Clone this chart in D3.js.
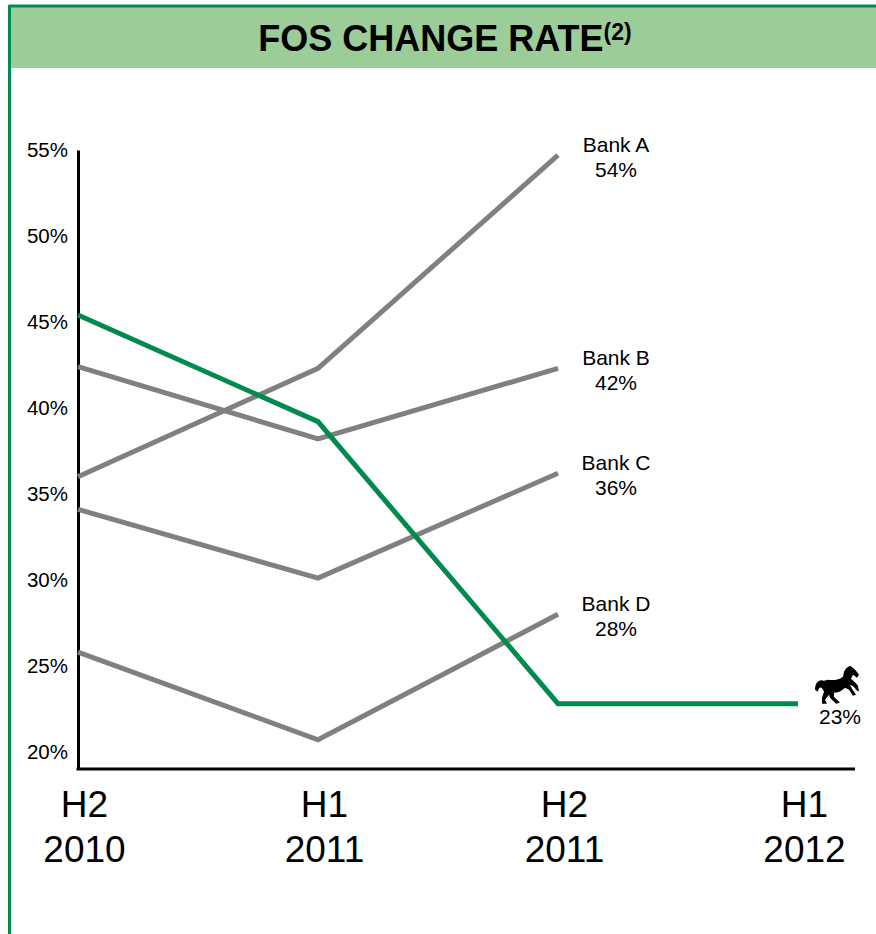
<!DOCTYPE html>
<html>
<head>
<meta charset="utf-8">
<script src="https://cdn.jsdelivr.net/npm/d3@7"></script>
<style>
  body { margin: 0; background: #fff; }
  svg text { font-family: "Liberation Sans", Arial, sans-serif; }
</style>
</head>
<body>
<div id="chart-area"></div>
<script>
// === Chart data ===
const periods = ["H2 2010", "H1 2011", "H2 2011", "H1 2012"];
const yTicks = [20, 25, 30, 35, 40, 45, 50, 55];

const bankNames = ["Bank A", "Bank B", "Bank C", "Bank D"];
const bankA = [36.0, 42.3, 54.7];
const bankB = [42.4, 38.2, 42.3];
const bankC = [34.1, 30.1, 36.2];
const bankD = [25.8, 20.7, 28.0];
const bankLabels = ["54%", "42%", "36%", "28%"];

const lloyds = [45.4, 39.2, 22.8, 22.8];
const lloydsLabel = "23%";

const COLOR_GREEN = "#008a4e";   // Lloyds line + frame
const COLOR_GREY = "#808080";    // peer banks
const COLOR_HEADER = "#9ccc98";  // title band

function drawChart() {
    const W = 876, H = 934;

    const svg = d3.select("#chart-area")
        .append("svg")
        .attr("width", W)
        .attr("height", H);

    // Frame + title band
    svg.append("rect")
        .attr("x", 10).attr("y", 7)
        .attr("width", W - 10).attr("height", 61)
        .attr("fill", COLOR_HEADER);
    svg.append("line")
        .attr("x1", 9).attr("x2", W)
        .attr("y1", 6).attr("y2", 6)
        .attr("stroke", COLOR_GREEN).attr("stroke-width", 3);
    svg.append("line")
        .attr("x1", 9.5).attr("x2", 9.5)
        .attr("y1", 5).attr("y2", H)
        .attr("stroke", COLOR_GREEN).attr("stroke-width", 3);

    const title = svg.append("text")
        .attr("x", 445).attr("y", 51)
        .attr("text-anchor", "middle")
        .attr("font-weight", "bold")
        .attr("font-size", 36)
        .attr("fill", "#000");
    title.append("tspan").text("FOS CHANGE RATE");
    title.append("tspan")
        .attr("font-size", 23)
        .attr("dy", -11)
        .text("(2)");

    // Scales
    const x = d3.scalePoint()
        .domain(periods)
        .range([78, 798]);

    const y = d3.scaleLinear()
        .domain([19, 55])
        .range([769, 150]);

    // Y axis
    const yAxis = svg.append("g")
        .attr("transform", "translate(78,0)")
        .call(d3.axisLeft(y)
            .tickValues(yTicks)
            .tickSize(0)
            .tickSizeOuter(0)
            .tickPadding(10)
            .tickFormat(d => d + "%"));
    yAxis.select(".domain").attr("stroke", "#000").attr("stroke-width", 3);
    yAxis.selectAll("text")
        .attr("font-size", 20.5)
        .attr("fill", "#000")
        .attr("font-family", "Liberation Sans, Arial, sans-serif");

    // X axis: labels on two lines, axis line runs past the last period
    const xAxis = svg.append("g")
        .attr("transform", `translate(0,${y(19)})`)
        .call(d3.axisBottom(x).tickSize(0).tickSizeOuter(0));
    xAxis.select(".domain").remove();
    xAxis.append("line")
        .attr("x1", x(periods[0]) - 1.5)
        .attr("x2", x(periods[periods.length - 1]) + 57)
        .attr("stroke", "#000").attr("stroke-width", 3);
    xAxis.selectAll(".tick text")
        .attr("font-size", 37)
        .attr("fill", "#000")
        .attr("font-family", "Liberation Sans, Arial, sans-serif")
        .attr("y", 0)
        .attr("dy", null)
        .each(function (d) {
            const parts = d.split(" ");
            const t = d3.select(this).text(null);
            t.append("tspan").attr("x", 6).attr("y", 48).text(parts[0]);
            t.append("tspan").attr("x", 6).attr("y", 93).text(parts[1]);
        });

    const line = d3.line()
        .x((d, i) => x(periods[i]))
        .y(d => y(d));

    // Peer bank lines
    const banks = [bankA, bankB, bankC, bankD];
    banks.forEach((vals, k) => {
        svg.append("path")
            .datum(vals)
            .attr("fill", "none")
            .attr("stroke", COLOR_GREY)
            .attr("stroke-width", 5)
            .attr("d", line);

        const last = vals.length - 1;
        const lbl = svg.append("text")
            .attr("text-anchor", "middle")
            .attr("font-size", 21)
            .attr("fill", "#000");
        lbl.append("tspan")
            .attr("x", x(periods[last]) + 58)
            .attr("y", y(vals[last]) - 3)
            .text(bankNames[k]);
        lbl.append("tspan")
            .attr("x", x(periods[last]) + 58)
            .attr("y", y(vals[last]) + 22)
            .text(bankLabels[k]);
    });

    // Lloyds line
    svg.append("path")
        .datum(lloyds)
        .attr("fill", "none")
        .attr("stroke", COLOR_GREEN)
        .attr("stroke-width", 5)
        .attr("d", line);

    const lx = x(periods[lloyds.length - 1]);
    const ly = y(lloyds[lloyds.length - 1]);

    // Black horse icon next to the last point (rearing, facing right)
    svg.append("path")
        .attr("transform", `translate(${lx + 16},${ly - 38})`)
        .attr("fill", "#000")
        .attr("d", "M1,24 C1,17 5,13 10,15 L14,14 C20,15 25,14 29,11 L30,6 C31,3 34,1 36,0 L39,2 L42,5 L45,9 L43,12 L39,9 L37,13 C39,15 42,17 44,20 L45,26 L42,24 L40,21 L36,19 L38,23 L42,29 L39,30 L35,24 L31,22 C28,25 24,27 20,27 L20,31 L26,37 L22,38 L16,32 L15,29 L11,34 L13,38 L8,38 L8,32 L10,26 C8,21 5,20 4,26 Z");

    svg.append("text")
        .attr("x", lx + 42)
        .attr("y", ly + 20)
        .attr("text-anchor", "middle")
        .attr("font-size", 21)
        .attr("fill", "#000")
        .text(lloydsLabel);
}

drawChart();
</script>
</body>
</html>
